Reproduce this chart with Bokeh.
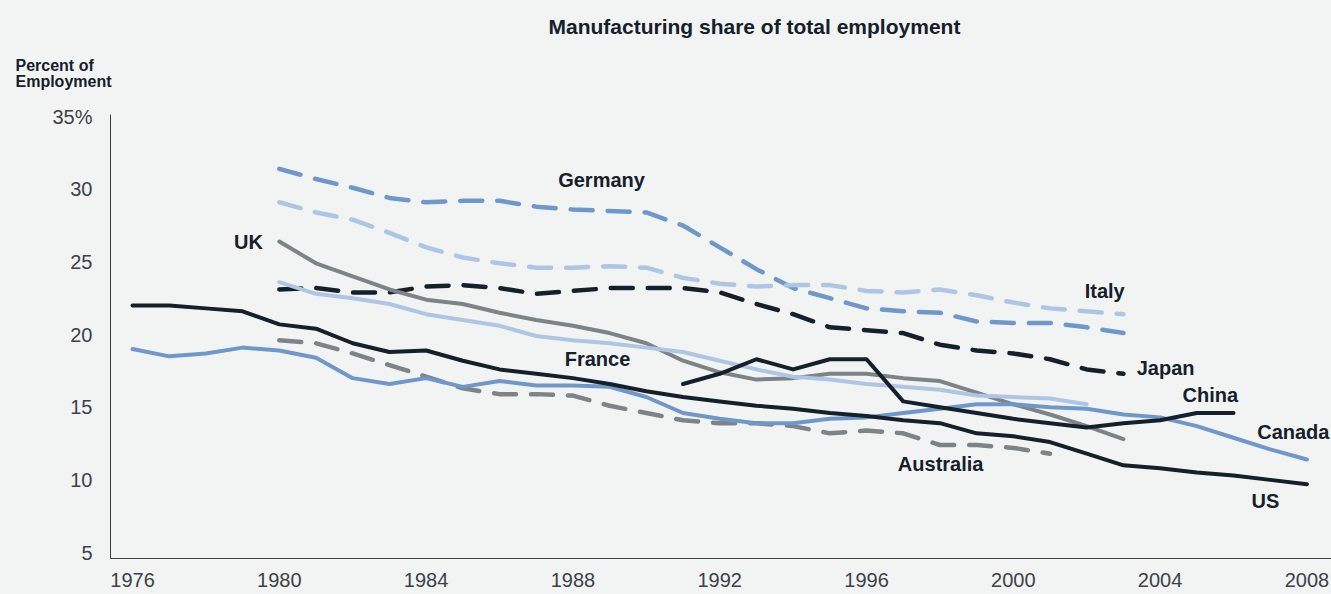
from bokeh.plotting import figure
from bokeh.models import Label, Range1d, FixedTicker, Title
from bokeh.embed import file_html
from bokeh.resources import INLINE

# ---------------- data ----------------
years_full = list(range(1976, 2009))
years_80_03 = list(range(1980, 2004))
years_80_02 = list(range(1980, 2003))
years_80_01 = list(range(1980, 2002))
years_china = list(range(1991, 2007))

us = [22.0, 22.0, 21.8, 21.6, 20.7, 20.4, 19.4, 18.8, 18.9, 18.2, 17.6, 17.3, 17.0,
      16.6, 16.1, 15.7, 15.4, 15.1, 14.9, 14.6, 14.4, 14.1, 13.9, 13.2, 13.0, 12.6,
      11.8, 11.0, 10.8, 10.5, 10.3, 10.0, 9.7]
canada = [19.0, 18.5, 18.7, 19.1, 18.9, 18.4, 17.0, 16.6, 17.0, 16.4, 16.8, 16.5, 16.5,
          16.4, 15.7, 14.6, 14.2, 13.9, 13.9, 14.2, 14.3, 14.6, 14.9, 15.2, 15.2, 15.0,
          14.9, 14.5, 14.3, 13.7, 12.9, 12.1, 11.4]
uk = [26.4, 24.9, 24.0, 23.1, 22.4, 22.1, 21.5, 21.0, 20.6, 20.1, 19.4, 18.2, 17.4,
      16.9, 17.0, 17.3, 17.3, 17.0, 16.8, 16.0, 15.2, 14.5, 13.7, 12.8]
france = [23.6, 22.8, 22.5, 22.1, 21.4, 21.0, 20.6, 19.9, 19.6, 19.4, 19.1, 18.8, 18.2,
          17.6, 17.1, 16.9, 16.6, 16.4, 16.2, 15.8, 15.7, 15.6, 15.2]
germany = [31.4, 30.7, 30.1, 29.4, 29.1, 29.2, 29.2, 28.8, 28.6, 28.5, 28.4, 27.5, 26.0,
           24.5, 23.2, 22.5, 21.8, 21.6, 21.5, 20.9, 20.8, 20.8, 20.5, 20.1]
italy = [29.1, 28.4, 27.9, 27.0, 26.0, 25.3, 24.9, 24.6, 24.6, 24.7, 24.6, 23.9, 23.5,
         23.3, 23.4, 23.4, 23.0, 22.9, 23.1, 22.7, 22.2, 21.8, 21.6, 21.4]
japan = [23.1, 23.2, 22.9, 22.9, 23.3, 23.4, 23.2, 22.8, 23.0, 23.2, 23.2, 23.2, 22.9,
         22.1, 21.4, 20.5, 20.3, 20.1, 19.3, 18.9, 18.7, 18.3, 17.6, 17.3]
australia = [19.6, 19.4, 18.7, 17.9, 17.1, 16.3, 15.9, 15.9, 15.8, 15.1, 14.6, 14.1,
             13.9, 13.9, 13.7, 13.2, 13.4, 13.2, 12.4, 12.4, 12.2, 11.8]
china = [16.6, 17.3, 18.3, 17.6, 18.3, 18.3, 15.4, 15.0, 14.6, 14.2, 13.9, 13.6, 13.9,
         14.1, 14.6, 14.6]

x_ticks = [1976, 1980, 1984, 1988, 1992, 1996, 2000, 2004, 2008]
y_ticks = [5, 10, 15, 20, 25, 30, 35]
y_tick_labels = {35: "35%"}

title_text = "Manufacturing share of total employment"
ylabel_text = "Percent of\nEmployment"

series_labels = [
    ("Germany", 1988.78, 30.60),
    ("UK", 1979.16, 26.34),
    ("France", 1988.67, 18.35),
    ("Italy", 2002.49, 23.03),
    ("Japan", 2004.15, 17.73),
    ("China", 2005.37, 15.81),
    ("Canada", 2007.63, 13.26),
    ("Australia", 1998.02, 11.06),
    ("US", 2006.87, 8.58),
]

# ---------------- style ----------------
BG = "#f2f4f4"
DARK = "#15202a"
MBLUE = "#6f98c9"
LBLUE = "#aec6e4"
GRAY = "#7e8387"
FONT = "Liberation Sans"

p = figure(width=1331, height=594, output_backend="svg", toolbar_location=None,
           x_range=Range1d(1975.40, 2008.67), y_range=Range1d(4.59, 35.14),
           min_border_left=110, min_border_right=0, min_border_top=114,
           min_border_bottom=36)
p.background_fill_color = BG
p.border_fill_color = BG
p.outline_line_color = None
p.grid.visible = False

for ax in (p.xaxis[0], p.yaxis[0]):
    ax.axis_line_color = "#3a4046"
    ax.axis_line_width = 1
    ax.major_tick_line_color = None
    ax.minor_tick_line_color = None
    ax.major_label_text_font = FONT
    ax.major_label_text_font_size = "20px"
    ax.major_label_text_color = "#3c4248"

p.xaxis.ticker = FixedTicker(ticks=x_ticks)
p.xaxis.major_label_standoff = 8
p.yaxis.ticker = FixedTicker(ticks=y_ticks)
p.yaxis.major_label_overrides = y_tick_labels
p.yaxis.major_label_standoff = 12

dash = "22 15"
p.line(years_80_03, germany, line_color=MBLUE, line_width=4.5, line_dash=dash, line_cap="round")
p.line(years_80_03, italy, line_color=LBLUE, line_width=4.5, line_dash=dash, line_cap="round")
p.line(years_80_03, japan, line_color=DARK, line_width=4.5, line_dash=dash, line_cap="round")
p.line(years_80_01, australia, line_color=GRAY, line_width=4.5, line_dash=dash, line_cap="round")
p.line(years_80_03, uk, line_color=GRAY, line_width=4, line_cap="round", line_join="round")
p.line(years_80_02, france, line_color=LBLUE, line_width=4, line_cap="round", line_join="round")
p.line(years_full, canada, line_color=MBLUE, line_width=4, line_cap="round", line_join="round")
p.line(years_china, china, line_color=DARK, line_width=4, line_cap="round", line_join="round")
p.line(years_full, us, line_color=DARK, line_width=4, line_cap="round", line_join="round")

for txt, lx, ly in series_labels:
    p.add_layout(Label(x=lx, y=ly, text=txt, text_font=FONT, text_font_style="bold",
                       text_font_size="20px", text_color=DARK, text_align="center",
                       text_baseline="middle"))

# y-axis caption (closest to frame) and main title (above it)
p.add_layout(Title(text=ylabel_text, align="left", offset=-95, standoff=49,
                   text_font=FONT, text_font_style="bold", text_font_size="16px",
                   text_color=DARK, text_line_height=0.92), "above")
p.add_layout(Title(text=title_text, align="left", offset=438, standoff=-14,
                   text_font=FONT, text_font_style="bold", text_font_size="21px",
                   text_color=DARK), "above")

html = file_html(p, INLINE)
html = html.replace("</head>",
                    "<style>html,body{margin:0;padding:0;background:%s;}</style></head>" % BG, 1)
open("out.html", "w").write(html)
